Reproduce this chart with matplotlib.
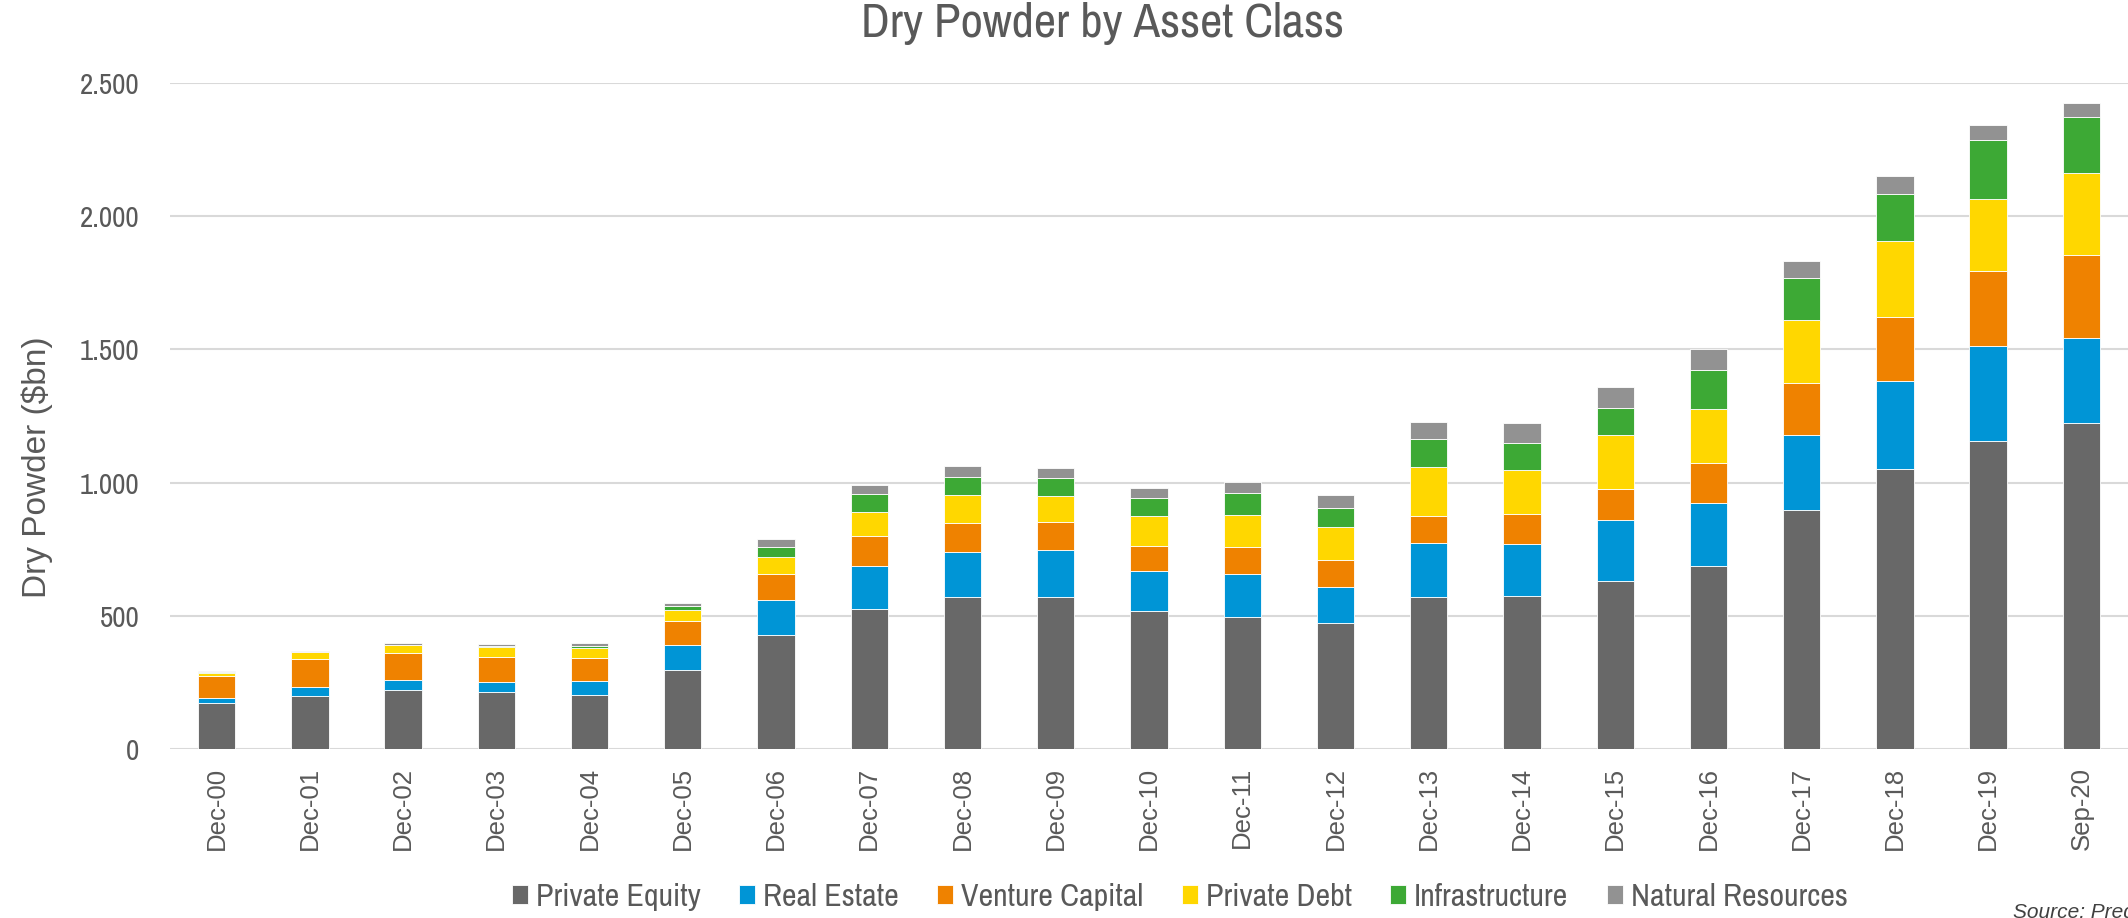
import matplotlib
matplotlib.use("Agg")
import matplotlib.pyplot as plt
import numpy as np

categories = ["Dec-00", "Dec-01", "Dec-02", "Dec-03", "Dec-04", "Dec-05", "Dec-06",
              "Dec-07", "Dec-08", "Dec-09", "Dec-10", "Dec-11", "Dec-12", "Dec-13",
              "Dec-14", "Dec-15", "Dec-16", "Dec-17", "Dec-18", "Dec-19", "Sep-20"]

private_equity = [173, 198, 222, 213, 202, 297, 428, 526, 571, 569, 518, 494, 473, 571,
                  575, 632, 687, 896, 1050, 1157, 1222]
real_estate = [19, 36, 39, 38, 54, 94, 132, 161, 168, 177, 149, 162, 135, 202,
               196, 226, 236, 281, 333, 356, 321]
venture_capital = [81, 105, 100, 95, 85, 88, 96, 111, 108, 105, 97, 103, 100, 100,
                   110, 120, 149, 197, 237, 281, 311]
private_debt = [14, 24, 28, 37, 37, 42, 66, 93, 107, 99, 109, 120, 125, 184,
                166, 201, 205, 236, 288, 271, 308]
infrastructure = [3, 2, 3, 4, 10, 15, 36, 66, 67, 66, 69, 84, 73, 106,
                  100, 102, 146, 159, 177, 221, 209]
natural_resources = [2, 4, 5, 7, 11, 13, 30, 35, 43, 40, 39, 38, 48, 63,
                     75, 77, 77, 64, 65, 55, 55]

series_names = ["Private Equity", "Real Estate", "Venture Capital", "Private Debt",
                "Infrastructure", "Natural Resources"]
series_colors = ["#686868", "#0095D6", "#EF8200", "#FFD700", "#3DA935", "#929292"]
y_ticks = [0, 500, 1000, 1500, 2000, 2500]
y_tick_labels = ["0", "500", "1.000", "1.500", "2.000", "2.500"]

NARROW = ["Archivo Narrow", "Roboto Condensed", "DejaVu Sans"]
REG = ["Liberation Sans", "DejaVu Sans"]
TXT = "#595959"

fig = plt.figure(figsize=(21.28, 9.18), dpi=100)
ax = fig.add_axes([0.0799, 0.184, 0.9201, 0.7256])

series = [private_equity, real_estate, venture_capital, private_debt,
          infrastructure, natural_resources]
x = np.arange(len(categories))
bottom = np.zeros(len(categories))
for name, vals, col in zip(series_names, series, series_colors):
    v = np.array(vals, dtype=float)
    ax.bar(x, v, width=0.4, bottom=bottom, color=col, label=name,
           edgecolor="white", linewidth=0.6, zorder=3)
    bottom += v

ax.set_xlim(-0.5, len(categories) - 0.5)
ax.set_ylim(0, 2500)
ax.set_yticks(y_ticks)
ax.set_yticklabels(y_tick_labels, family=NARROW, fontsize=21, color=TXT)
ax.set_xticks(x)
ax.set_xticklabels(categories, rotation=90, family=REG, fontsize=18.5, color=TXT)
ax.tick_params(axis="both", length=0)
ax.tick_params(axis="y", pad=22)
ax.tick_params(axis="x", pad=13)
ax.grid(axis="y", color="#d9d9d9", linewidth=1.5, zorder=0)
for s in ax.spines.values():
    s.set_visible(False)

ax.set_ylabel("Dry Powder ($bn)", family=REG, fontsize=24, color=TXT)
ax.yaxis.set_label_coords(-0.060, 0.423)

fig.text(0.518, 0.974, "Dry Powder by Asset Class", ha="center", va="center",
         family=NARROW, fontsize=35, color=TXT)

fig.legend(loc="center", bbox_to_anchor=(0.5545, 0.023), ncol=6, frameon=False,
           prop={"family": NARROW, "size": 23}, labelcolor=TXT,
           handlelength=0.5, handleheight=0.5, handletextpad=0.25,
           columnspacing=1.2)

fig.text(0.946, 0.0163, "Source: Preqin", ha="left", va="top", style="italic",
         family=REG, fontsize=15, color="#404040")

fig.savefig("out.png", dpi=100)
